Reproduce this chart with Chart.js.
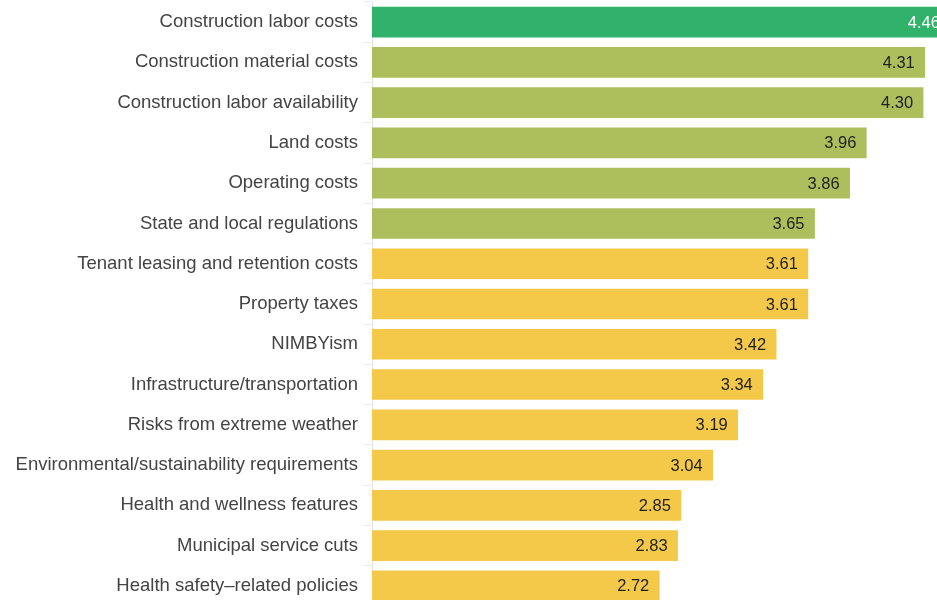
<!DOCTYPE html>
<html>
<head>
<meta charset="utf-8">
<script src="https://cdn.jsdelivr.net/npm/chart.js@4/dist/chart.umd.min.js"></script>
<style>
  html, body { margin: 0; padding: 0; background: #fff; overflow: hidden; }
  #wrap { position: relative; width: 1040px; height: 606px; }
</style>
</head>
<body>
<div id="wrap"><canvas id="barChart"></canvas></div>
<script>
var categories = [
    "Construction labor costs",
    "Construction material costs",
    "Construction labor availability",
    "Land costs",
    "Operating costs",
    "State and local regulations",
    "Tenant leasing and retention costs",
    "Property taxes",
    "NIMBYism",
    "Infrastructure/transportation",
    "Risks from extreme weather",
    "Environmental/sustainability requirements",
    "Health and wellness features",
    "Municipal service cuts",
    "Health safety\u2013related policies"
];
var scores = [4.46, 4.31, 4.30, 3.96, 3.86, 3.65, 3.61, 3.61, 3.42, 3.34, 3.19, 3.04, 2.85, 2.83, 2.72];
// colour group of each bar: 0 = top, 1 = high, 2 = rest
var groups = [0, 1, 1, 1, 1, 1, 2, 2, 2, 2, 2, 2, 2, 2, 2];
var groupColors = ["#30b26b", "#adbe5c", "#f4c94a"];

// draws the value at the inside end of each bar
var valueLabels = {
    id: "valueLabels",
    afterDatasetsDraw: function (chart) {
        var ctx = chart.ctx;
        var meta = chart.getDatasetMeta(0);
        ctx.save();
        ctx.font = "16.5px 'Liberation Sans', Arial, sans-serif";
        ctx.textAlign = "right";
        ctx.textBaseline = "middle";
        meta.data.forEach(function (bar, i) {
            ctx.fillStyle = groups[i] === 0 ? "#ffffff" : "#222222";
            ctx.fillText(scores[i].toFixed(2), bar.x - 10, bar.y + 1);
        });
        ctx.restore();
    }
};

new Chart(document.getElementById("barChart"), {
    type: "bar",
    data: {
        labels: categories,
        datasets: [{
            data: scores,
            backgroundColor: groups.map(function (g) { return groupColors[g]; }),
            barThickness: 30
        }]
    },
    options: {
        indexAxis: "y",
        responsive: true,
        maintainAspectRatio: false,
        animation: false,
        layout: { padding: { top: 2, right: 0, bottom: 0, left: 0 } },
        plugins: {
            legend: { display: false },
            tooltip: { enabled: false }
        },
        scales: {
            x: { display: false, min: 1, max: 5 },
            y: {
                afterFit: function (scale) {
                    scale.width = 372;
                    scale.paddingTop = 0;
                    scale.paddingBottom = 0;
                },
                grid: {
                    drawOnChartArea: false,
                    tickLength: 8,
                    color: "#ececec"
                },
                border: { color: "#e4e4e4" },
                ticks: {
                    color: "#444444",
                    padding: 6,
                    font: { family: "'Liberation Sans', Arial, sans-serif", size: 18.5 }
                }
            }
        }
    },
    plugins: [valueLabels]
});
</script>
</body>
</html>
